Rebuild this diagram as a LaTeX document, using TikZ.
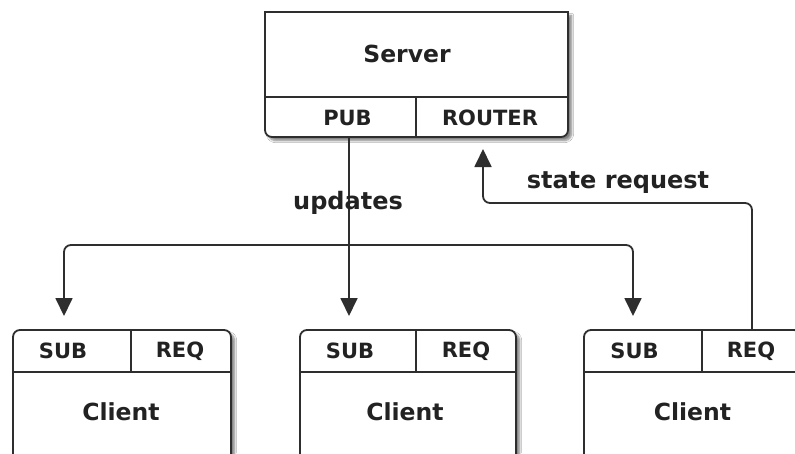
\documentclass[tikz,border=0pt]{standalone}
\usepackage{fontspec}
\setmainfont{DejaVu Sans}
\usetikzlibrary{arrows.meta,shadows.blur}
\definecolor{ln}{HTML}{2E2E2E}
\definecolor{tx}{HTML}{222222}
\begin{document}
\begin{tikzpicture}[x=1pt,y=-1pt,
  cell/.style={inner sep=0pt, font=\bfseries\fontsize{21}{21}\selectfont, text=tx},
  big/.style={inner sep=0pt, font=\bfseries\fontsize{23.5}{24}\selectfont, text=tx},
  lbl/.style={inner sep=0pt, font=\bfseries\fontsize{24}{24}\selectfont, text=tx},
  outline/.style={draw=ln, line width=1.8pt, fill=white,
    blur shadow={shadow xshift=3.5pt, shadow yshift=-3.5pt, shadow blur steps=6, shadow opacity=50}},
  divider/.style={draw=ln, line width=1.6pt},
  conn/.style={draw=ln, line width=1.8pt, rounded corners=7pt},
  tip/.style={-{Triangle[length=18pt,width=17pt]}},
  twotip/.style={{Triangle[length=18pt,width=17pt]}-{Triangle[length=18pt,width=17pt]}}
]
\useasboundingbox (0,0) rectangle (795,453);
\fill[white] (0,0) rectangle (795,453);
\clip (0,0) rectangle (795,453);

% Server box
\path[outline] (265,60) -- (265,12) -- (568,12) -- (568,60) [rounded corners=7pt] -- (568,137) -- (265,137) -- (265,60) [sharp corners] -- cycle;
\draw[divider] (265,97) -- (568,97) (416,97) -- (416,137);
\node[big] (server) at (407,54) {Server};
\node[cell] (pub) at (347.5,117.5) {PUB};
\node[cell] (router) at (490,117.5) {ROUTER};

% Clients
\path[outline, rounded corners=7pt] (13,480) -- (13,330) -- (231,330) -- (231,480);
\draw[divider] (13,372) -- (231,372) (131,330) -- (131,372);
\node[cell] (c1sub) at (63,351) {SUB};
\node[cell] (c1req) at (180,351) {REQ};
\node[big] (c1) at (121,412) {Client};

\path[outline, rounded corners=7pt] (300,480) -- (300,330) -- (516,330) -- (516,480);
\draw[divider] (300,372) -- (516,372) (416,330) -- (416,372);
\node[cell] (c2sub) at (350,351) {SUB};
\node[cell] (c2req) at (466,351) {REQ};
\node[big] (c2) at (405,412) {Client};

\path[outline, rounded corners=7pt] (584,480) -- (584,330) -- (801,330) -- (801,480);
\draw[divider] (584,372) -- (801,372) (702,330) -- (702,372);
\node[cell] (c3sub) at (634.5,351) {SUB};
\node[cell] (c3req) at (751,351) {REQ};
\node[big] (c3) at (692.5,412) {Client};

% Connector points
\coordinate (pubout) at (349,137);
\coordinate (c2in) at (349,316);
\coordinate (c1in) at (64,316);
\coordinate (c1bend) at (64,245);
\coordinate (c3bend) at (633,245);
\coordinate (c3in) at (633,316);
\coordinate (reqout) at (752,330);
\coordinate (sr1) at (752,203);
\coordinate (sr2) at (483,203);
\coordinate (routerin) at (483,149);

\draw[conn, tip] (pubout) -- (c2in);
\draw[conn, twotip] (c1in) -- (c1bend) -- (c3bend) -- (c3in);
\draw[conn, tip] (reqout) -- (sr1) -- (sr2) -- (routerin);

\node[lbl] (updates) at (348,203) {updates};
\node[lbl] (statereq) at (618,183) {state request};
\end{tikzpicture}
\end{document}
